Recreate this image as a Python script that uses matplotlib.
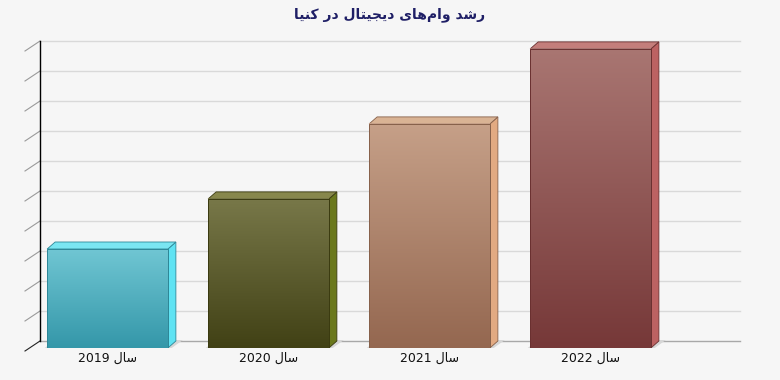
import numpy as np
import matplotlib
matplotlib.use("Agg")
import matplotlib.pyplot as plt
from matplotlib.patches import Polygon
from matplotlib.colors import to_rgb

# ---------------- data ----------------
title_text = "رشد وام‌های دیجیتال در کنیا"
categories = ["سال 2019", "سال 2020", "سال 2021", "سال 2022"]
values = [3.3, 4.97, 7.47, 9.97]
y_ticks = list(range(0, 11))

front_top = ["#70c6d3", "#787849", "#c6a088", "#a97672"]
front_bot = ["#3497a9", "#414115", "#946750", "#763838"]
side_cols = ["#5fe3f3", "#6a781c", "#e2aa82", "#bc6262"]
top_cols = ["#7ae6f2", "#87874c", "#d9b394", "#c47e7b"]
edge_cols = ["#2d8797", "#3a3a10", "#86604a", "#6a3030"]

# ---------------- minimal Persian shaping ----------------
FORMS = {  # isolated, final, initial, medial
    'ا': ('\uFE8D', '\uFE8E', None, None),
    'د': ('\uFEA9', '\uFEAA', None, None),
    'ر': ('\uFEAD', '\uFEAE', None, None),
    'و': ('\uFEED', '\uFEEE', None, None),
    'ش': ('\uFEB5', '\uFEB6', '\uFEB7', '\uFEB8'),
    'س': ('\uFEB1', '\uFEB2', '\uFEB3', '\uFEB4'),
    'م': ('\uFEE1', '\uFEE2', '\uFEE3', '\uFEE4'),
    'ه': ('\uFEE9', '\uFEEA', '\uFEEB', '\uFEEC'),
    'ی': ('\uFBFC', '\uFBFD', '\uFBFE', '\uFBFF'),
    'ج': ('\uFE9D', '\uFE9E', '\uFE9F', '\uFEA0'),
    'ت': ('\uFE95', '\uFE96', '\uFE97', '\uFE98'),
    'ل': ('\uFEDD', '\uFEDE', '\uFEDF', '\uFEE0'),
    'ک': ('\uFB8E', '\uFB8F', '\uFB90', '\uFB91'),
    'ن': ('\uFEE5', '\uFEE6', '\uFEE7', '\uFEE8'),
}


def shape_word(w):
    out = []
    for i, c in enumerate(w):
        if c not in FORMS:
            if c != '\u200c':
                out.append(c)
            continue
        prev = w[i - 1] if i > 0 else None
        nxt = w[i + 1] if i + 1 < len(w) else None
        join_prev = prev in FORMS and FORMS[prev][2] is not None
        join_next = nxt in FORMS and FORMS[c][2] is not None
        iso, fin, ini, med = FORMS[c]
        if join_prev and join_next:
            out.append(med)
        elif join_prev:
            out.append(fin)
        elif join_next:
            out.append(ini)
        else:
            out.append(iso)
    return out


def rtl(text):
    words = text.split(' ')
    res = []
    for w in reversed(words):
        if any(ch in FORMS for ch in w):
            res.append(''.join(reversed(shape_word(w))))
        else:
            res.append(w)
    return ' '.join(res)


# ---------------- figure ----------------
W, H, DPI = 780, 380, 100
fig = plt.figure(figsize=(W / DPI, H / DPI), dpi=DPI, facecolor="#f6f6f6")
ax_l, ax_b, ax_w, ax_h = 32, 32, 700, 318
ax = fig.add_axes([ax_l / W, ax_b / H, ax_w / W, ax_h / H])
ax.set_facecolor("none")
for s in ax.spines.values():
    s.set_visible(False)
ax.set_xticks([])
ax.set_yticks([])

x = np.arange(len(categories))
xmin, xmax = -0.469, -0.469 + 700 / 161
ymin, ymax = 0, 10.6
bw = 0.75
ppx = ax_w / (xmax - xmin)
ppy = ax_h / (ymax - ymin)
DX, DY = 8, 7  # depth in pixels
ddx, ddy = DX / ppx, DY / ppy

# back wall grid
for t in y_ticks:
    ax.plot([xmin + ddx, xmax + ddx], [t + ddy, t + ddy],
            color="#a8a8a8" if t == 0 else "#d9d9d9",
            lw=1.0, zorder=1, clip_on=False)
    # diagonal tick marks
    ax.plot([xmin + ddx, xmin + ddx - 15 / ppx], [t + ddy, t + ddy - 10 / ppy],
            color="#9a9a9a" if t > 0 else "#222222", lw=0.8, zorder=2, clip_on=False)
ax.plot([xmin + ddx, xmin + ddx], [ddy, y_ticks[-1] + ddy], color="black",
        lw=1.0, zorder=2, clip_on=False)

# bars
for i, v in enumerate(values):
    x0, x1 = x[i] - bw / 2, x[i] + bw / 2
    # floor shadow
    sh = Polygon([(x0 - 5 / ppx, -2 / ppy), (x1 + 1 / ppx, -2 / ppy),
                  (x1 + 15 / ppx, 8 / ppy), (x0 + 8 / ppx, 8 / ppy)],
                 closed=True, facecolor="#d6d6d6", edgecolor="none", zorder=3)
    ax.add_patch(sh)
    # side face
    side = Polygon([(x1, 0), (x1 + ddx, ddy), (x1 + ddx, v + ddy), (x1, v)],
                   closed=True, facecolor=side_cols[i], edgecolor=edge_cols[i],
                   lw=0.6, zorder=4)
    ax.add_patch(side)
    # top face
    top = Polygon([(x0, v), (x1, v), (x1 + ddx, v + ddy), (x0 + ddx, v + ddy)],
                  closed=True, facecolor=top_cols[i], edgecolor=edge_cols[i],
                  lw=0.6, zorder=4)
    ax.add_patch(top)
    # front face gradient
    c_top = np.array(to_rgb(front_top[i]))
    c_bot = np.array(to_rgb(front_bot[i]))
    tt = np.linspace(0, 1, 200)[:, None]
    grad = (c_top * (1 - tt) + c_bot * tt)[:, None, :]
    ax.imshow(grad, extent=[x0, x1, 0, v], aspect="auto", zorder=5,
              interpolation="bilinear")
    ax.add_patch(plt.Rectangle((x0, 0), bw, v, facecolor="none",
                               edgecolor=edge_cols[i], lw=0.7, zorder=6))
    ax.text(x[i], -10 / ppy, rtl(categories[i]), ha="center", va="center",
            fontsize=9, color="#111111", family="DejaVu Sans")

ax.set_xlim(xmin, xmax)
ax.set_ylim(ymin, ymax)

fig.text(0.5, 1 - 15 / H, rtl(title_text), ha="center", va="center",
         fontsize=10, fontweight="bold", color="#1f1f66", family="DejaVu Sans")

fig.savefig("out.png", dpi=DPI, facecolor=fig.get_facecolor())
